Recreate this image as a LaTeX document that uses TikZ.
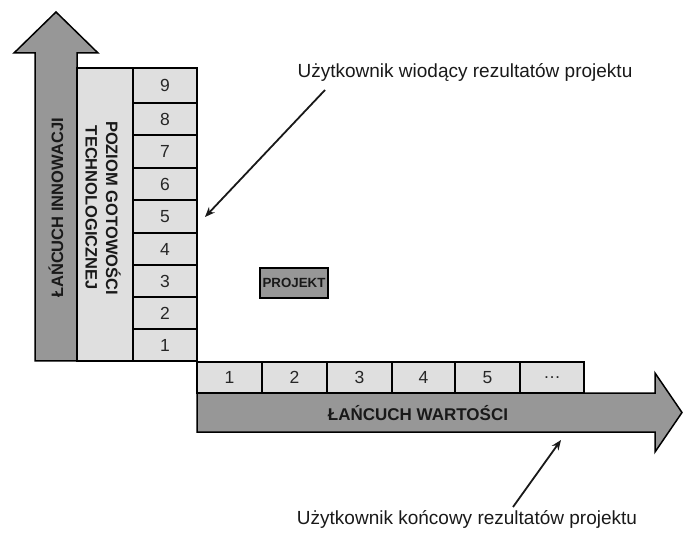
\documentclass[tikz,border=0pt]{standalone}
\usepackage{fontspec}
\setmainfont{Liberation Sans}
\usetikzlibrary{arrows.meta}
\definecolor{darkg}{HTML}{979797}
\definecolor{lightg}{HTML}{DFDFDF}
\tikzset{
  bigarrow/.style={draw=black, fill=darkg, line width=1.5pt, line join=miter},
  cellbox/.style={draw=black, fill=lightg, line width=1.4pt},
  numtxt/.style={font=\fontsize{17.5}{20}\selectfont, text=black!85, inner sep=0pt},
  boldlbl/.style={font=\fontsize{16.5}{20}\bfseries\selectfont, text=black!90, inner sep=0pt},
  usertxt/.style={font=\fontsize{19}{22}\selectfont, text=black!90, inner sep=0pt},
  pointer/.style={draw=black!90, line width=1.8pt, -{Stealth[length=10pt,width=8pt]}}
}
\begin{document}
\begin{tikzpicture}[x=1pt,y=-1pt]
\useasboundingbox (0,0) rectangle (683,537);
% vertical arrow
\draw[bigarrow] (35,361) -- (35,53) -- (14,53) -- (56,12) -- (98,53) -- (77,53) -- (77,361) -- cycle;
\node[boldlbl, rotate=90] (innow) at (56,208) {ŁAŃCUCH INNOWACJI};
% light column
\draw[cellbox] (77,68) rectangle (133,361);
\node[boldlbl, rotate=-90, align=center, font=\fontsize{16.5}{20.5}\bfseries\selectfont] (trl) at (103,208) {POZIOM GOTOWOŚCI\\TECHNOLOGICZNEJ};
% vertical cells
\foreach \i/\ya/\yb in {9/68/103, 8/103/135, 7/135/168, 6/168/200, 5/200/233, 4/233/265, 3/265/297, 2/297/329, 1/329/361} {
  \draw[cellbox] (133,\ya) rectangle (197,\yb);
  \node[numtxt] (v\i) at (165,{(\ya+\yb)/2}) {\i};
}
% horizontal arrow
\draw[bigarrow] (197,393) -- (655,393) -- (655,373) -- (682,412.5) -- (655,452) -- (655,432) -- (197,432) -- cycle;
\node[boldlbl, font=\fontsize{17}{20}\bfseries\selectfont] (wart) at (418,413) {ŁAŃCUCH WARTOŚCI};
% horizontal cells
\foreach \t/\xa/\xb/\n in {1/197/262/h1, 2/262/327/h2, 3/327/392/h3, 4/392/455/h4, 5/455/520/h5, {\dots}/520/584/h6} {
  \draw[cellbox] (\xa,362) rectangle (\xb,393);
  \node[numtxt] (\n) at ({(\xa+\xb)/2},377.5) {\t};
}
% project
\node[draw=black, fill=darkg, line width=1.5pt, font=\fontsize{13.3}{15}\bfseries\selectfont, text=black!90, inner sep=1.5pt, minimum width=68pt, minimum height=30pt] (proj) at (294,283) {PROJEKT};
% labels
\node[usertxt] (lead) at (465,72) {Użytkownik wiodący rezultatów projektu};
\node[usertxt] (final) at (467,519) {Użytkownik końcowy rezultatów projektu};
\coordinate (leadS) at (325,90);
\coordinate (leadE) at (205,217);
\coordinate (finS) at (513,507);
\coordinate (finE) at (561,440);
\draw[pointer] (leadS) -- (leadE);
\draw[pointer] (finS) -- (finE);
\end{tikzpicture}
\end{document}
